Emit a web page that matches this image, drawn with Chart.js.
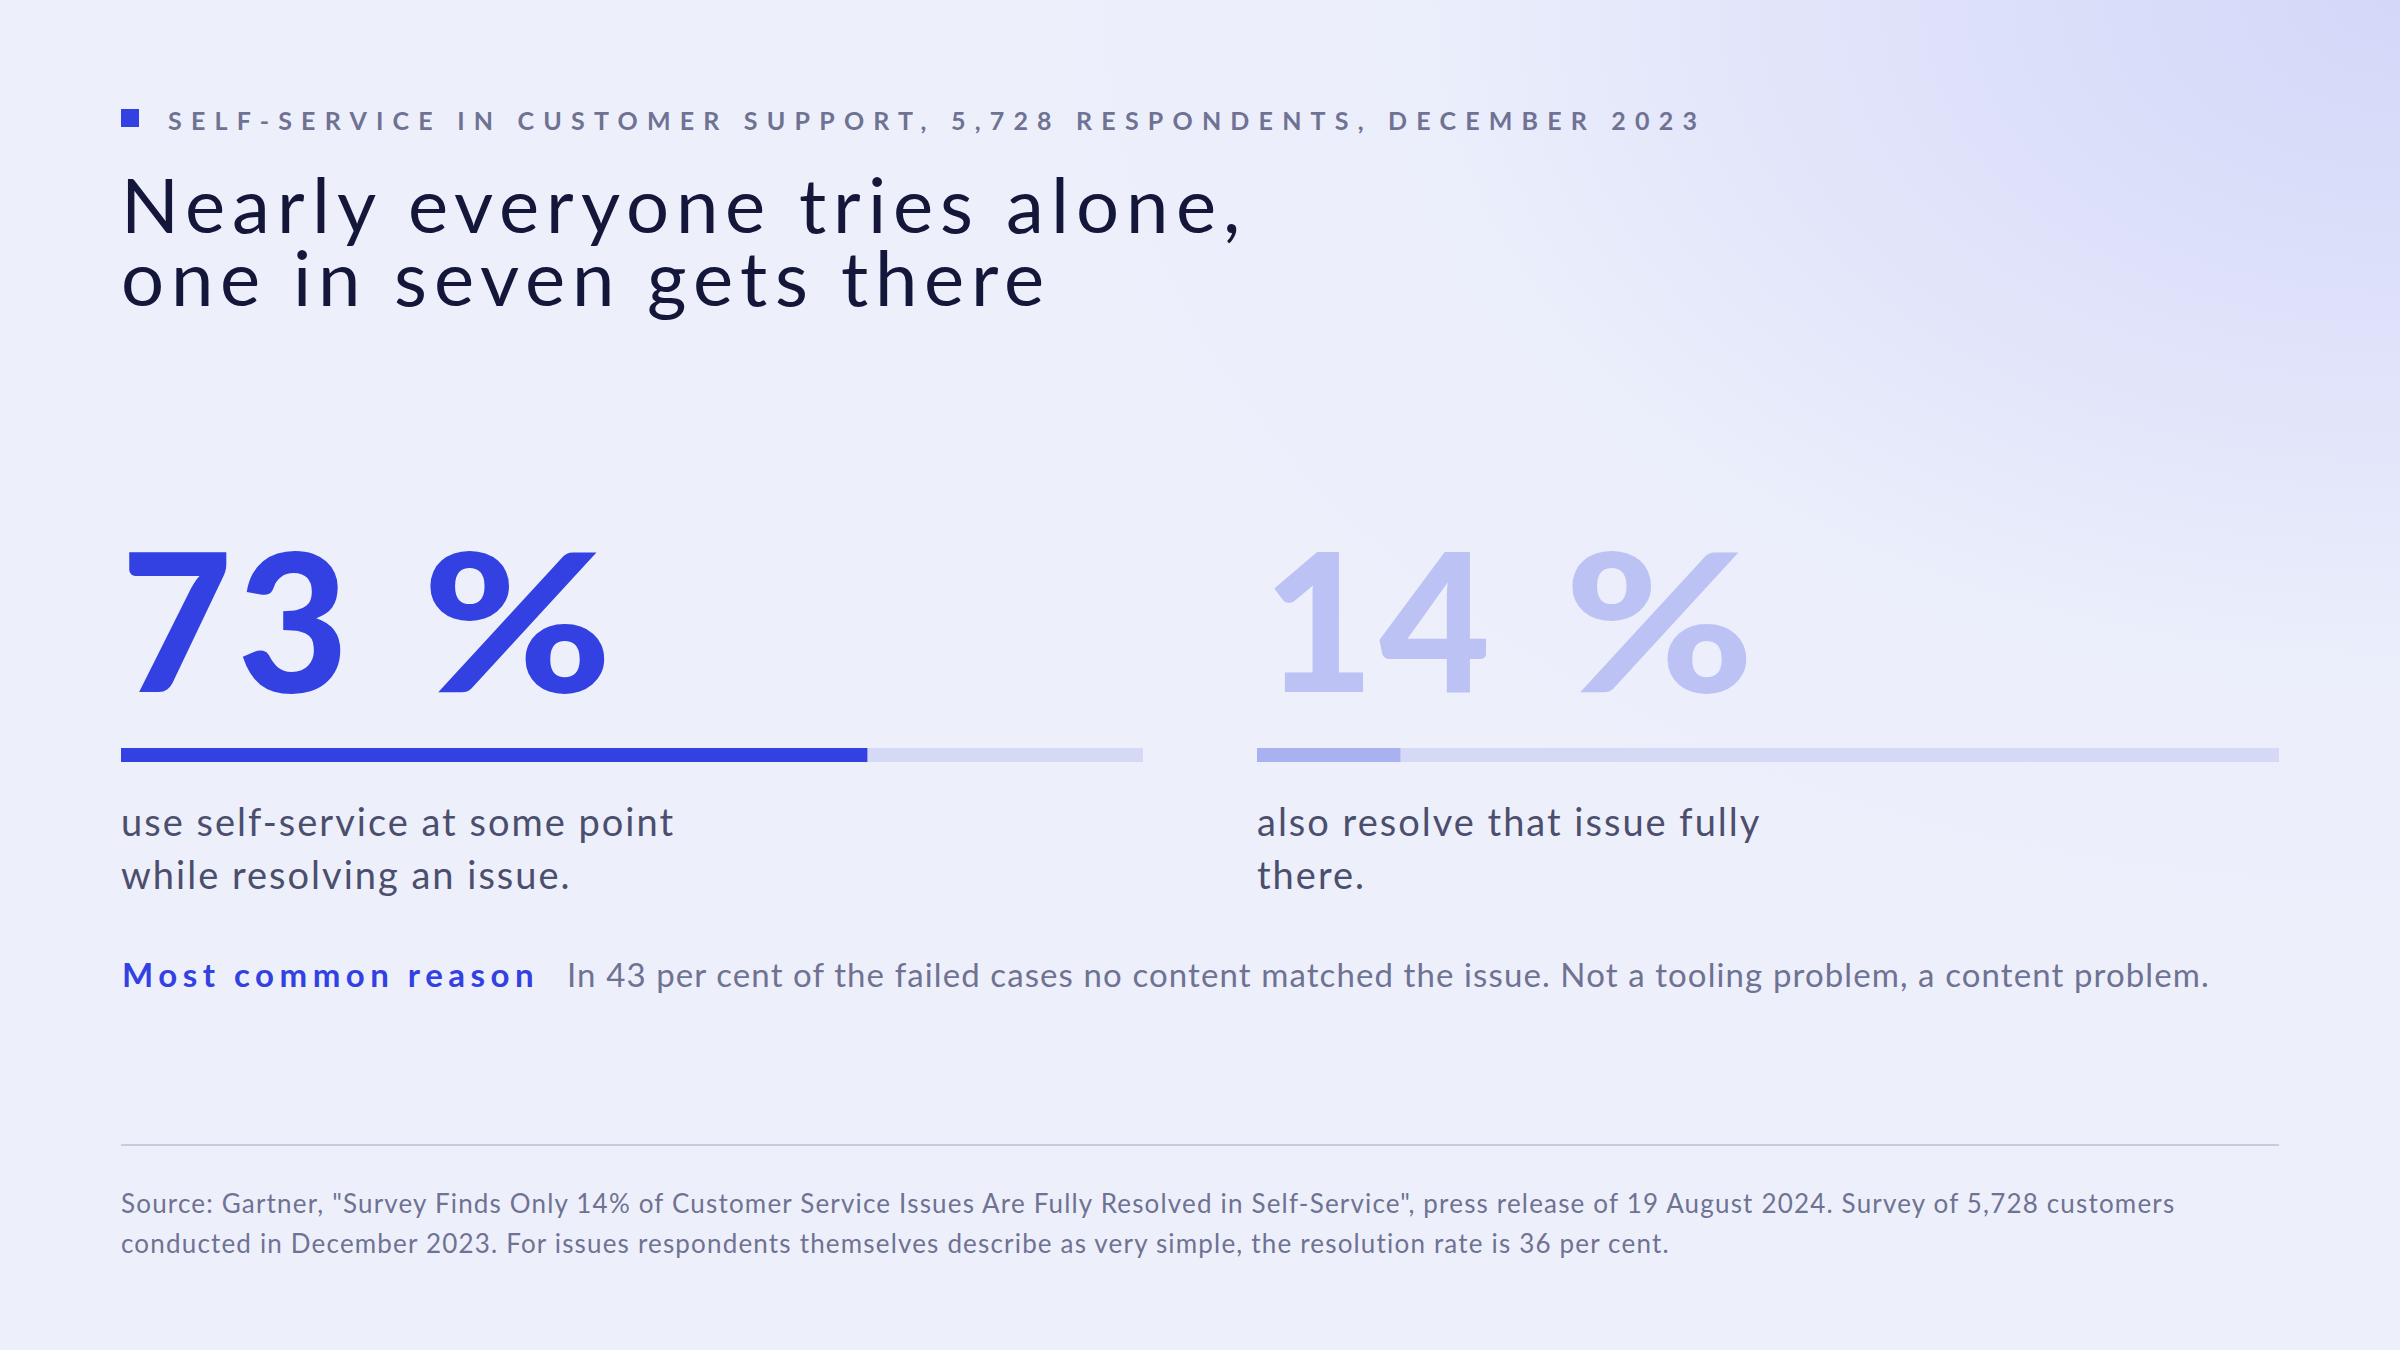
<!DOCTYPE html>
<html>
<head>
<meta charset="utf-8">
<script src="https://cdn.jsdelivr.net/npm/chart.js@4"></script>
<style>
  @font-face {
    font-family: "LatoTitle";
    src: local("Lato Regular"), local("Lato-Regular"), local("Lato");
    font-weight: 400;
    ascent-override: 80%;
    descent-override: 15%;
    line-gap-override: 0%;
  }
  html, body { margin:0; padding:0; }
  body {
    width:2400px; height:1350px; overflow:hidden; position:relative;
    font-family: Lato, "Noto Sans", sans-serif;
    background:
      radial-gradient(ellipse 1400px 950px at 2400px 0px, rgba(212,215,248,1) 0%, rgba(218,221,249,0.75) 35%, rgba(230,233,250,0.3) 70%, rgba(236,239,251,0) 100%),
      #edf0fb;
  }
  .abs { position:absolute; white-space:nowrap; }
  #kSq { left:121px; top:109px; width:18px; height:18px; background:#3340e2; }
  #kicker { left:168px; top:105px; font-size:25px; line-height:30px; font-weight:700; letter-spacing:9.2px; color:#6f7293; }
  .title { left:121px; font-family: "LatoTitle", Lato, sans-serif; font-size:76px; line-height:60px; font-weight:400; letter-spacing:7.1px; color:#14173a; }
  .big { font-size:192px; line-height:192px; font-weight:900; top:522px; letter-spacing:5px; word-spacing:18px; }
  .pct { display:inline-block; transform: scaleX(1.2); transform-origin: left center; }
  .barwrap { position:absolute; top:748px; width:1022px; height:14px; }
  .desc { font-size:38px; line-height:53px; color:#4b4e6d; letter-spacing:2px; }
  #reasonLbl { left:122px; top:954px; font-size:33px; line-height:40px; font-weight:700; letter-spacing:5.5px; color:#3340e2; }
  #reasonTxt { left:567px; top:954px; font-size:33px; line-height:40px; letter-spacing:1.1px; color:#6f7293; }
  #rule { position:absolute; left:121px; top:1144px; width:2158px; height:2px; background:#c9cbdd; }
  .src { left:121px; font-size:26px; line-height:40px; letter-spacing:1.18px; color:#6f7293; }
</style>
</head>
<body>
<div id="kSq" class="abs"></div>
<div id="kicker" class="abs"></div>
<div id="title0" class="abs title" style="top:178px"></div>
<div id="title1" class="abs title" style="top:251px"></div>

<div id="big0" class="abs big"></div>
<div id="big1" class="abs big"></div>
<div class="barwrap" id="w0" style="left:121px"><canvas id="c0"></canvas></div>
<div class="barwrap" id="w1" style="left:1257px"><canvas id="c1"></canvas></div>
<div id="desc0a" class="abs desc" style="left:121px; top:795px"></div>
<div id="desc0b" class="abs desc" style="left:121px; top:848px"></div>
<div id="desc1a" class="abs desc" style="left:1257px; top:795px"></div>
<div id="desc1b" class="abs desc" style="left:1257px; top:848px"></div>

<div id="reasonLbl" class="abs"></div>
<div id="reasonTxt" class="abs"></div>
<div id="rule"></div>
<div id="src0" class="abs src" style="top:1183px"></div>
<div id="src1" class="abs src" style="top:1223px"></div>

<script>
// ---- data ----
const kicker = "SELF-SERVICE IN CUSTOMER SUPPORT, 5,728 RESPONDENTS, DECEMBER 2023";
const titleLines = ["Nearly everyone tries alone,", "one in seven gets there"];
const metricLabels = ["Use self-service", "Fully resolve there"];
const metricValues = [73, 14];
const metricMax = 100;
const metricDescs = [
  ["use self-service at some point", "while resolving an issue."],
  ["also resolve that issue fully", "there."]
];
const reasonLabel = "Most common reason";
const reasonText = "In 43 per cent of the failed cases no content matched the issue. Not a tooling problem, a content problem.";
const sourceLines = [
  "Source: Gartner, \"Survey Finds Only 14% of Customer Service Issues Are Fully Resolved in Self-Service\", press release of 19 August 2024. Survey of 5,728 customers",
  "conducted in December 2023. For issues respondents themselves describe as very simple, the resolution rate is 36 per cent."
];

// ---- styles ----
const numberColors = ["#3340e2", "#bcc2f4"];
const fillColors = ["#3340e2", "#aab1f1"];
const trackColor = "#d6d9f6";
const numberLefts = [121, 1263];

document.getElementById('kicker').textContent = kicker;
titleLines.forEach((t, i) => document.getElementById('title' + i).textContent = t);
document.getElementById('reasonLbl').textContent = reasonLabel;
document.getElementById('reasonTxt').textContent = reasonText;
sourceLines.forEach((t, i) => document.getElementById('src' + i).textContent = t);

metricValues.forEach((v, i) => {
  const big = document.getElementById('big' + i);
  big.innerHTML = v + ' <span class="pct">%</span>';
  big.style.color = numberColors[i];
  big.style.left = numberLefts[i] + 'px';
  document.getElementById('desc' + i + 'a').textContent = metricDescs[i][0];
  document.getElementById('desc' + i + 'b').textContent = metricDescs[i][1];

  new Chart(document.getElementById('c' + i), {
    type: 'bar',
    data: {
      labels: [metricLabels[i]],
      datasets: [
        { data: [v], backgroundColor: fillColors[i], order: 1, grouped: false,
          barPercentage: 1, categoryPercentage: 1, borderWidth: 0 },
        { data: [metricMax], backgroundColor: trackColor, order: 2, grouped: false,
          barPercentage: 1, categoryPercentage: 1, borderWidth: 0 }
      ]
    },
    options: {
      indexAxis: 'y',
      responsive: true,
      maintainAspectRatio: false,
      animation: false,
      layout: { padding: 0 },
      plugins: { legend: { display: false }, tooltip: { enabled: false } },
      scales: {
        x: { display: false, min: 0, max: metricMax },
        y: { display: false }
      }
    }
  });
});
</script>
</body>
</html>
